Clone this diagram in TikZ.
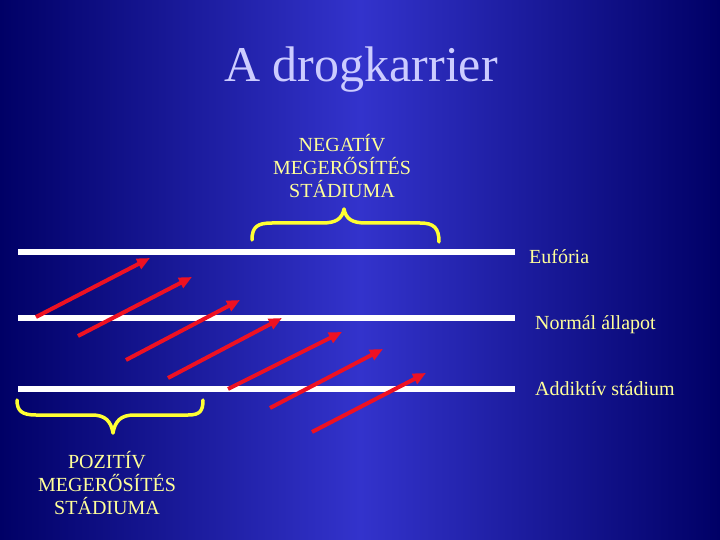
\documentclass[tikz,border=0pt]{standalone}
\usepackage{fontspec}
\setmainfont{Liberation Serif}
\usetikzlibrary{arrows.meta}

\definecolor{bgdark}{HTML}{000066}
\definecolor{bglight}{HTML}{3333CC}
\definecolor{titlecol}{HTML}{CCCCFF}
\definecolor{labelcol}{HTML}{FFFF99}
\definecolor{bracecol}{HTML}{FFFF33}
\definecolor{arrowcol}{HTML}{EE1122}

\begin{document}
\begin{tikzpicture}[x=1pt,y=-1pt,
    level line/.style={draw=white, line width=6pt},
    push arrow/.style={draw=arrowcol, line width=4pt, -{Triangle[length=13pt,width=11pt]}},
    stage brace/.style={draw=bracecol, line width=3.5pt, line cap=round, line join=round},
    label node/.style={text=labelcol, font=\fontsize{20}{23}\selectfont, inner sep=0pt}]

  %Background%
  \shade[left color=bgdark, right color=bgdark, middle color=bglight] (0,0) rectangle (720,540);
  \useasboundingbox (0,0) rectangle (720,540);

  %Title%
  \node[text=titlecol, font=\fontsize{50}{60}\selectfont, anchor=base, inner sep=0pt] (title) at (361,82) {A drogkarrier};

  %Levels%
  \coordinate (eu1) at (18,252);  \coordinate (eu2) at (515,252);
  \coordinate (no1) at (18,318);  \coordinate (no2) at (515,318);
  \coordinate (ad1) at (18,389);  \coordinate (ad2) at (515,389);
  \draw[level line] (eu1) -- (eu2);
  \draw[level line] (no1) -- (no2);
  \draw[level line] (ad1) -- (ad2);

  \node[label node, anchor=base west] (euforia) at (529,263) {Eufória};
  \node[label node, anchor=base west] (normal) at (535,329) {Normál állapot};
  \node[label node, anchor=base west] (addikt) at (535,395) {Addiktív stádium};

  %Arrows%
  \foreach \i/\sx/\sy/\ex/\ey in {1/36/317/150/258, 2/78/336/192/277, 3/126/360/240/300,
      4/168/378/282/318, 5/228/389/342/332, 6/270/408/383/349, 7/312/432/426/373}{
    \coordinate (s\i) at (\sx,\sy);
    \coordinate (e\i) at (\ex,\ey);
    \draw[push arrow] (s\i) -- (e\i);
  }

  %Braces%
  \coordinate (nb1) at (252,240);  \coordinate (nbtip) at (344,209);  \coordinate (nb2) at (439,242);
  \draw[stage brace] (nb1) .. controls (252,227) and (257,223) .. (272,223) -- (322,223)
      .. controls (336,223) and (342,219) .. (nbtip)
      .. controls (346,219) and (352,223) .. (366,223) -- (420,223)
      .. controls (434,223) and (439,228) .. (nb2);
  \coordinate (pb1) at (17,400);  \coordinate (pbtip) at (113,433);  \coordinate (pb2) at (203,400);
  \draw[stage brace] (pb1) .. controls (17,411) and (22,415) .. (36,415) -- (92,415)
      .. controls (105,415) and (111,421) .. (pbtip)
      .. controls (115,421) and (121,415) .. (134,415) -- (188,415)
      .. controls (200,415) and (203,411) .. (pb2);

  \node[label node, align=center] (negativ) at (342,166) {NEGATÍV\\MEGERŐSÍTÉS\\STÁDIUMA};
  \node[label node, align=center] (pozitiv) at (107,483) {POZITÍV\\MEGERŐSÍTÉS\\STÁDIUMA};
\end{tikzpicture}
\end{document}
